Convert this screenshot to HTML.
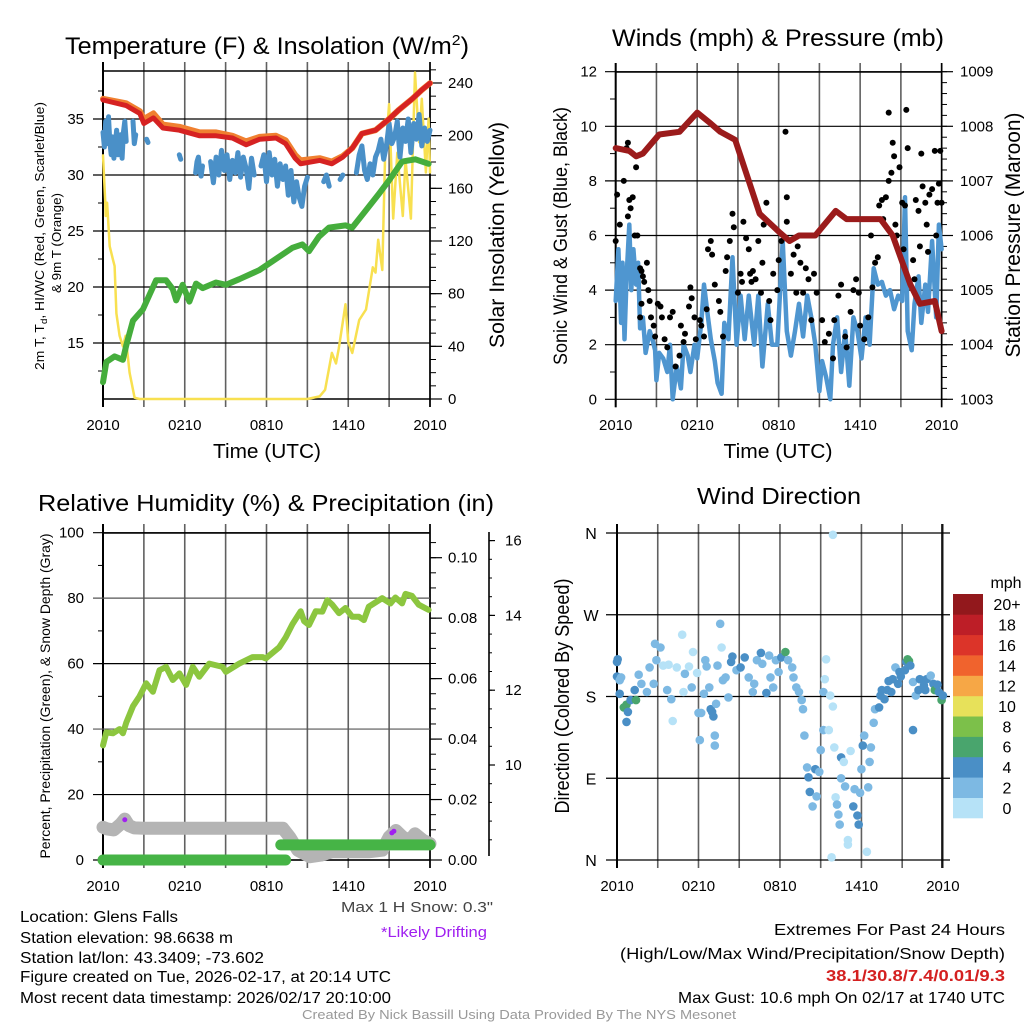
<!DOCTYPE html>
<html><head><meta charset="utf-8">
<style>
html,body{margin:0;padding:0;background:#fff;}
svg{display:block;font-family:"Liberation Sans",Arial,sans-serif;}
</style></head>
<body>
<svg id="chart" width="1024" height="1024" viewBox="0 0 1024 1024" xmlns="http://www.w3.org/2000/svg">
<rect x="0" y="0" width="1024" height="1024" fill="#fff"/>
<!-- titles -->
<text x="267" y="54" font-size="24" text-anchor="middle" textLength="404" lengthAdjust="spacingAndGlyphs">Temperature (F) &amp; Insolation (W/m<tspan font-size="15" dy="-9">2</tspan><tspan dy="9">)</tspan></text>
<text x="778" y="46" font-size="24" text-anchor="middle" textLength="332" lengthAdjust="spacingAndGlyphs">Winds (mph) &amp; Pressure (mb)</text>
<text x="266" y="511" font-size="23" text-anchor="middle" textLength="456" lengthAdjust="spacingAndGlyphs">Relative Humidity (%) &amp; Precipitation (in)</text>
<text x="779" y="504" font-size="23" text-anchor="middle" textLength="164" lengthAdjust="spacingAndGlyphs">Wind Direction</text>
<!-- axis titles -->
<text x="267" y="458" font-size="20" text-anchor="middle" textLength="108" lengthAdjust="spacingAndGlyphs">Time (UTC)</text>
<text x="778" y="458" font-size="20" text-anchor="middle" textLength="109" lengthAdjust="spacingAndGlyphs">Time (UTC)</text>
<text transform="translate(44,236) rotate(-90)" font-size="13" text-anchor="middle" textLength="268" lengthAdjust="spacingAndGlyphs">2m T, T<tspan font-size="9" dy="3">d</tspan><tspan dy="-3">, HI/WC (Red, Green, Scarlet/Blue)</tspan></text>
<text transform="translate(61,243) rotate(-90)" font-size="13" text-anchor="middle" textLength="100" lengthAdjust="spacingAndGlyphs">&amp; 9m T (Orange)</text>
<text transform="translate(504,235) rotate(-90)" font-size="21" text-anchor="middle" textLength="226" lengthAdjust="spacingAndGlyphs">Solar Insolation (Yellow)</text>
<text transform="translate(567,236) rotate(-90)" font-size="19" text-anchor="middle" textLength="258" lengthAdjust="spacingAndGlyphs">Sonic Wind &amp; Gust (Blue, Black)</text>
<text transform="translate(1020,235) rotate(-90)" font-size="21" text-anchor="middle" textLength="245" lengthAdjust="spacingAndGlyphs">Station Pressure (Maroon)</text>
<text transform="translate(50,696) rotate(-90)" font-size="14" text-anchor="middle" textLength="325" lengthAdjust="spacingAndGlyphs">Percent, Precipitation (Green), &amp; Snow Depth (Gray)</text>
<text transform="translate(569,696) rotate(-90)" font-size="20" text-anchor="middle" textLength="235" lengthAdjust="spacingAndGlyphs">Direction (Colored By Speed)</text>
<!-- footer text -->
<text x="493" y="912" font-size="15" fill="#444" text-anchor="end" textLength="152" lengthAdjust="spacingAndGlyphs">Max 1 H Snow: 0.3"</text>
<text x="487" y="937" font-size="15" fill="#a020f0" text-anchor="end" textLength="106" lengthAdjust="spacingAndGlyphs">*Likely Drifting</text>
<g font-size="15.5" fill="#000">
<text x="20" y="922" textLength="158" lengthAdjust="spacingAndGlyphs">Location: Glens Falls</text>
<text x="20" y="943" textLength="213" lengthAdjust="spacingAndGlyphs">Station elevation: 98.6638 m</text>
<text x="20" y="963" textLength="244" lengthAdjust="spacingAndGlyphs">Station lat/lon: 43.3409; -73.602</text>
<text x="20" y="982" textLength="371" lengthAdjust="spacingAndGlyphs">Figure created on Tue, 2026-02-17, at 20:14 UTC</text>
<text x="20" y="1003" textLength="371" lengthAdjust="spacingAndGlyphs">Most recent data timestamp: 2026/02/17 20:10:00</text>
</g>
<g font-size="16" text-anchor="end">
<text x="1005" y="935" textLength="231" lengthAdjust="spacingAndGlyphs">Extremes For Past 24 Hours</text>
<text x="1005" y="959" textLength="385" lengthAdjust="spacingAndGlyphs">(High/Low/Max Wind/Precipitation/Snow Depth)</text>
<text x="1005" y="981" font-weight="bold" fill="#d42020" textLength="179" lengthAdjust="spacingAndGlyphs">38.1/30.8/7.4/0.01/9.3</text>
<text x="1005" y="1003" textLength="327" lengthAdjust="spacingAndGlyphs">Max Gust: 10.6 mph On 02/17 at 1740 UTC</text>
</g>
<text x="519" y="1019" font-size="13" fill="#999" text-anchor="middle" textLength="434" lengthAdjust="spacingAndGlyphs">Created By Nick Bassill Using Data Provided By The NYS Mesonet</text>
</svg>
<script>
// ===== Temperature panel data =====
const tempHours = [0,1.7,2.7,3,3.7,4.4,5.6,7.1,8.3,9.5,10.5,11.5,12.7,13.4,14.1,14.5,15.9,16.8,17.6,18.3,19,20,21,21.7,22.7,23.4,24];
const tempValues = [36.7,36.2,35.5,34.6,35.1,34.2,34.0,33.5,33.5,33.3,32.7,33.2,33.3,32.8,31.5,31.0,31.3,31.0,31.6,32.4,33.7,34.0,35.0,35.8,36.8,37.6,38.2];
const temp9mValues = [36.8,36.4,35.7,35.0,35.5,34.5,34.3,33.8,33.8,33.5,33.0,33.4,33.5,33.1,31.8,31.3,31.5,31.2,31.7,32.4,33.7,34.0,35.0,35.8,36.8,37.6,38.2];
const dewHours = [0,0.24,0.85,1.46,1.71,2.2,2.93,3.41,3.9,4.63,5.12,5.37,5.85,6.34,6.83,7.32,8.29,9.02,10,11.46,12.68,13.9,14.63,15.12,15.85,16.59,17.8,18.29,19.27,20.24,20.98,21.95,22.93,23.9];
const dewValues = [11.5,13.3,13.8,13.5,14.8,17.0,18.0,19.3,20.6,20.6,19.8,18.8,20.2,18.7,20.3,19.9,20.4,20.2,20.7,21.5,22.5,23.5,23.8,23.2,24.5,25.3,25.5,25.3,26.8,28.3,29.5,31.2,31.4,31.0];
const chillHours = [
 0,0.1,0.2,0.3,0.4,0.5,0.6,0.7,0.8,0.9,1.0,1.1,1.2,1.3,1.4,1.5,1.6,1.7, 1.8,
 2.2,2.3,2.4, 2.5, 3.2,3.3, 3.4, 5.6,5.7, 5.8,
 6.8,6.9,7.0,7.1,7.2,7.3, 7.4,
 7.9,8.1,8.3,8.5,8.7,8.9,9.1,9.3,9.5,9.7,9.9,10.1,10.3,10.5,10.7,10.9,11.1, 11.3,
 11.6,11.8,12.0,12.2,12.4,12.6,12.8,13.0,13.2,13.4,
 13.6,13.8,14.0,14.2,14.4,14.6,14.8,15.0, 15.3,
 16.2,16.4,16.6, 16.8, 17.4,17.6, 17.8,
 18.6,18.8,19.0,19.2,19.4,19.6,19.8,20.0,20.2,20.4,20.6,20.8,
 21.0,21.2,21.4,21.6,21.8,22.0,22.2,22.4,22.6,22.8,23.0,23.2,23.4,23.6,23.8,24.0];
const chillValues = [
 33.8,32.5,34.8,32.8,35.2,33.0,31.8,33.4,31.5,32.6,34.0,31.8,32.9,33.6,31.5,33.8,34.8,33.0, null,
 34.8,32.8,33.6, null, 33.2,32.9, null, 31.8,31.4, null,
 30.2,31.2,31.6,30.4,29.9,30.8, null,
 31.2,29.3,31.6,30.0,32.2,30.4,31.8,29.6,31.3,30.2,32.0,29.8,31.6,30.6,28.8,31.5,30.0, null,
 30.8,31.8,29.4,32.0,30.0,31.4,29.0,31.0,29.6,30.8,
 28.2,30.4,27.6,29.4,28.0,27.2,29.0,29.8, null,
 29.4,30.0,29.0, null, 29.6,30.0, null,
 30.2,31.8,32.6,30.4,29.6,31.0,30.0,31.6,32.2,33.2,31.4,32.6,
 34.6,32.8,33.4,34.8,31.6,34.2,33.0,35.0,32.0,34.6,33.2,35.4,32.6,34.2,33.0,34.0];
const solarHours = [0,0.17,0.2,0.3,0.49,0.61,0.73,0.85,0.98,1.22,1.46,1.66,1.95,2.32,2.68,15.0,15.9,16.3,16.8,17.1,17.3,17.8,18.0,18.3,18.8,19.3,19.8,20.0,20.2,20.5,20.7,21.0,21.3,21.6,22.0,22.2,22.6,22.9,23.2,23.4,23.7,23.9,24];
const solarValues = [185,149,139,149,116,111,106,101,65,48,40,48,20,1,0,0,2,7,35,27,38,72,43,35,60,68,100,96,121,98,182,224,137,187,139,182,137,248,195,228,172,213,172];
const tempTicks = [15,20,25,30,35];
const solarTicks = [0,40,80,120,160,200,240];
const timeTickHours = [0,6,12,18,24];
const timeTickLabels = ['2010','0210','0810','1410','2010'];

// ===== Wind panel data =====
const windHours = [0,0.2,0.4,0.5,0.65,0.8,1.0,1.15,1.3,1.5,1.65,1.8,2.0,2.2,2.5,2.7,2.9,3.0,3.2,3.5,3.8,4.0,4.2,4.5,4.8,5.0,5.3,5.5,5.8,6.0,6.3,6.5,6.8,7.0,7.3,7.5,7.8,8.0,8.3,8.6,8.9,9.2,9.5,9.8,10.2,10.5,10.8,11.2,11.5,11.9,12.3,12.6,12.9,13.2,13.5,13.8,14.1,14.4,14.7,15.0,15.2,15.5,15.8,16.0,16.3,16.6,16.9,17.2,17.5,17.8,18.1,18.4,18.7,19.0,19.3,19.6,19.9,20.2,20.5,20.8,21.1,21.3,21.5,21.8,22.0,22.3,22.5,22.8,23.0,23.3,23.6,23.8,24.0];
const windValues = [3.6,5.5,2.8,5.0,2.2,4.5,6.4,4.0,5.5,4.2,5.0,2.6,3.0,1.7,2.5,2.2,1.8,0.7,1.7,1.5,1.0,2.0,0.0,1.2,0.4,2.0,1.6,1.0,2.0,1.5,2.8,4.2,3.0,2.2,1.4,0.6,0.2,2.8,2.2,5.2,2.0,3.8,2.2,3.8,2.0,3.8,1.2,3.5,2.0,2.0,5.8,2.5,1.6,2.5,3.5,2.3,3.8,3.0,2.0,0.3,1.4,0.8,0.0,2.0,3.0,1.0,2.5,0.5,3.0,2.5,1.5,3.0,2.0,4.8,4.2,4.3,3.8,4.0,3.3,3.8,3.6,7.4,2.5,1.8,3.5,4.5,2.8,4.2,3.2,5.8,3.0,6.4,5.5];
const gustHours = [0,0.1,0.3,0.6,0.8,0.9,1.0,0.9,1.1,1.25,1.5,1.4,1.6,1.8,1.9,2.0,2.1,2.3,2.4,1.9,1.8,2.5,2.6,2.8,2.9,3.1,3.3,3.4,3.6,3.8,4.0,4.2,4.4,4.7,4.8,5.0,5.1,5.4,5.5,5.6,5.8,5.9,6.2,6.3,6.5,6.7,6.8,7.0,7.1,7.3,7.6,7.7,7.9,8.1,8.2,8.4,8.6,8.7,9.0,9.2,9.3,9.4,9.6,9.8,9.9,10.0,10.1,10.3,10.5,10.7,10.8,10.9,11.1,11.3,11.4,11.6,11.9,12.0,12.2,12.5,12.6,12.6,12.9,13.1,13.3,13.4,13.6,13.8,14.0,14.2,14.4,14.6,14.8,15.2,15.4,15.7,16.0,16.1,16.4,16.6,16.9,17.0,17.3,17.5,17.7,17.9,18.0,18.3,18.6,18.8,18.9,19.1,19.3,19.4,19.6,19.7,19.9,20.1,20.1,20.3,20.4,20.5,20.6,20.7,20.9,21.2,21.1,21.3,21.4,21.5,21.9,22.0,22.1,22.3,22.4,22.5,22.6,22.8,22.9,23.0,23.1,23.3,23.5,23.6,23.7,23.8,23.9,24.0];
const gustValues = [5.8,7.5,6.4,8.0,9.2,9.4,7.3,6.7,7.0,7.4,8.5,6.0,6.0,4.8,4.7,4.5,4.3,5.0,4.0,3.5,3.0,3.6,3.0,2.7,2.3,3.5,3.4,3.0,2.2,1.9,3.0,3.2,1.2,1.6,2.7,2.1,2.4,3.4,4.1,3.7,3.0,2.2,2.9,2.7,2.3,3.3,5.5,5.8,5.3,4.2,3.6,3.2,2.3,4.7,5.2,5.8,6.8,6.3,3.9,4.6,4.3,6.5,5.9,5.5,4.6,4.3,4.7,4.4,5.8,3.9,5.0,6.4,7.2,3.6,2.9,4.6,4.0,5.1,5.8,9.8,7.4,6.5,4.6,5.3,3.9,5.6,5.0,3.9,4.8,4.4,2.9,4.6,3.9,2.9,2.1,2.4,1.5,2.9,3.8,4.2,2.3,1.9,3.2,4.0,4.4,3.9,2.7,2.2,3.0,6.0,4.1,5.0,5.2,7.1,7.3,6.6,7.4,10.5,8.0,8.3,9.4,8.9,6.4,6.0,8.5,5.5,7.2,7.1,10.6,9.2,5.1,4.4,7.3,6.9,5.6,9.0,7.8,7.2,6.4,5.4,7.5,7.7,9.1,6.0,7.2,7.9,9.1,7.2];
const presHours = [0,1,1.5,2,3.2,4.7,6,7,7.7,8.8,9.8,10.6,12.1,12.8,13.5,14.7,16.2,17,18,19.5,20.4,21.7,22.4,23.5,24];
const presValues = [1007.6,1007.55,1007.45,1007.5,1007.85,1007.9,1008.25,1008.05,1007.9,1007.75,1007.0,1006.4,1006.05,1005.9,1006.0,1006.0,1006.45,1006.3,1006.3,1006.3,1006.0,1005.1,1004.75,1004.8,1004.25];
const windTicks = [0,2,4,6,8,10,12];
const presTicks = [1003,1004,1005,1006,1007,1008,1009];

// ===== Humidity panel data =====
const rhHours = [0,0.24,0.73,1.22,1.46,1.71,2.2,2.68,3.17,3.66,4.15,4.63,5.12,5.61,6.1,6.59,7.07,7.8,8.78,9.02,10.0,10.98,11.71,11.95,12.93,13.41,13.9,14.51,14.76,15.12,15.61,16.1,16.46,16.83,17.32,17.8,18.29,18.78,19.15,19.51,20.49,21.1,21.46,21.95,22.2,22.68,23.17,23.9];
const rhValues = [35,39,38.7,40,38.7,42,47,50,54,51.4,58,59,55,57,53.5,59,56,60,59,57.5,60,62,62,61.6,65,68,72,76,73,71.8,76,75.9,79.4,78,75.4,77,74.3,74.3,73.3,77.4,80,78.4,80.2,78.4,81.3,80.7,78,76.4];
const snowHours = [0,0.3,0.8,1.3,1.6,1.9,2.3,3,6,9,12,13.2,13.7,14.3,15.2,16,16.8,18,19.5,20.5,21,21.5,22,22.5,22.9,23.5,24];
const snowValues = [10,9.5,9.2,11,12.5,10.5,9.8,9.7,9.7,9.7,9.7,9.7,7,3,1,1.5,2.5,2.5,2.5,3,7,9,7,6,8,6,5];
const precipHours = [0,13.4,13.4,13.05,24];
const precipValues = [0,0,null,0.005,0.005];
const driftHours = [1.6,21.2,21.35];
const driftValues = [12.3,8.3,8.8];
const rhTicks = [0,20,40,60,80,100];
const precipTicks = [0,0.02,0.04,0.06,0.08,0.10];
const precipLabels = ['0.00','0.02','0.04','0.06','0.08','0.10'];
const snowTicks = [10,12,14,16];

// ===== Wind direction data =====
const dirHours = [0,0,0.05,0.2,0.2,0.3,0.5,0.7,0.7,0.8,1.0,1.3,1.4,1.6,1.8,2.2,2.4,2.7,2.9,2.8,3.2,3.4,3.7,3.8,4.0,4.1,4.4,4.8,5.0,4.9,5.3,5.5,5.6,5.9,6.0,6.1,6.2,6.4,6.5,6.6,6.8,6.9,7.0,7.1,7.2,7.2,7.3,7.4,7.6,7.7,7.8,8.0,8.2,8.4,8.5,8.8,9.1,9.4,9.7,10.0,10.1,10.3,10.6,10.7,11.0,11.2,11.3,11.5,11.7,11.9,12.1,12.4,12.6,12.9,13.0,13.2,13.4,13.6,13.7,13.8,14.0,14.1,14.2,14.4,14.6,14.7,14.9,15.0,15.2,15.2,15.3,15.4,15.6,15.7,15.9,15.8,15.9,16.0,16.1,16.2,16.3,16.4,16.5,16.7,16.5,16.8,17.0,17.0,17.2,17.4,17.5,17.7,17.8,17.9,18.0,18.1,18.2,18.4,18.5,18.6,18.7,18.9,19.0,19.3,19.4,19.5,19.7,19.9,20.0,20.2,20.3,20.5,20.7,20.8,20.9,21.2,21.3,21.4,21.5,21.6,21.8,21.8,22.0,22.2,22.3,22.6,22.7,22.8,23.1,23.3,23.4,23.6,23.7,23.9,24.0];
const dirDegrees = [218,202,221,183,198,201,168,171,152,163,176,187,176,204,194,185,212,194,220,238,234,214,187,215,177,153,212,248,205,185,213,190,229,206,162,132,162,183,220,213,190,166,163,158,126,137,172,214,260,234,198,201,179,218,224,209,212,223,201,185,194,220,228,216,184,225,201,190,220,207,223,229,220,212,201,190,185,176,166,137,102,91,75,59,100,70,97,121,143,185,199,221,143,181,358,3,169,124,69,61,50,39,113,108,90,81,22,17,120,59,78,49,39,74,100,126,137,9,80,108,124,151,166,168,181,187,177,187,197,185,199,212,194,207,202,209,218,221,219,214,143,196,181,187,199,192,187,199,203,194,187,193,185,176,181];
const dirSpeeds = [5,5,5,5,3,3,7,7,5,5,5,5,7,3,3,3,3,3,3,3,3,1,3,1,3,1,1,1,3,1,1,3,1,1,3,3,3,3,3,3,3,5,5,5,3,3,3,3,3,1,3,3,3,5,5,3,5,5,3,3,3,3,5,3,5,3,3,3,3,3,5,7,3,3,3,3,3,3,3,3,3,5,5,3,5,3,3,3,3,3,1,1,1,1,1,1,1,1,1,3,3,3,5,1,3,3,1,1,1,5,3,5,5,3,3,5,3,1,3,3,3,3,3,5,5,5,5,5,5,5,5,3,5,5,5,5,5,7,7,5,5,3,3,5,5,5,5,5,3,5,7,5,5,7,5];
const dirTicks = [0,90,180,270,360];
const dirLabels = ['N','E','S','W','N'];
const speedBins = [0,2,4,6,8,10,12,14,16,18,20];
const speedLabels = ['0','2','4','6','8','10','12','14','16','18','20+'];
const speedColors = ['#b6e2f7','#7db9e3','#4a8fc6','#49a56d','#7cc04a','#e7e15a','#f6a746','#f0632d','#dc3429','#bd1e27','#92181c'];

// ===== rendering =====
const NS = 'http://www.w3.org/2000/svg';
const svg = document.getElementById('chart');
function mk(tag, attrs, parent) {
  const e = document.createElementNS(NS, tag);
  for (const k in attrs) e.setAttribute(k, attrs[k]);
  (parent || svg).appendChild(e);
  return e;
}
function pathD(xs, ys, fx, fy) {
  let d = '', pen = false;
  for (let i = 0; i < xs.length; i++) {
    if (ys[i] === null) { pen = false; continue; }
    d += (pen ? 'L' : 'M') + fx(xs[i]).toFixed(1) + ',' + fy(ys[i]).toFixed(1);
    pen = true;
  }
  return d;
}
function colorFor(s) {
  let idx = 0;
  for (let i = 0; i < speedBins.length; i++) if (s >= speedBins[i]) idx = i;
  return speedColors[idx];
}

// axis functions
const tlX = h => 103 + h * 13.625, tlY = t => 399 - (t - 10) * 11.2, tlS = s => 399 - s * 1.3167;
const trX = h => 615.7 + h * 13.58, trY = w => 399.3 - w * 27.3, trP = p => 399.3 - (p - 1003) * 54.6;
const blX = h => 103 + h * 13.625, blY = v => 860 - v * 3.273, blP = p => 860 - p * 3023, blSn = s => 765 - (s - 10) * 37.4;
const brX = h => 617 + h * 13.58, brY = d => 860 - d * 0.9083;

function frame(g, name, x0, x1, yTop, yBot, fX, labelY) {
  // vertical grid
  for (let h = 0; h <= 24; h += 3) {
    const l = mk('line', {x1: fX(h), x2: fX(h), y1: yTop - 9, y2: yBot + 8, stroke: '#606060', 'stroke-width': 1.6}, g);
    
    
  }
  timeTickHours.forEach((h, i) => {
    const t = mk('text', {x: fX(h), y: labelY, 'font-size': 15, 'text-anchor': 'middle'}, g);
    t.textContent = timeTickLabels[i];
    
    
  });
  const b = mk('line', {x1: x0, x2: x0, y1: yTop - 9, y2: yBot + 8, stroke: '#000', 'stroke-width': 2}, g);
  
  
  const r = mk('line', {x1: x1, x2: x1, y1: yTop - 9, y2: yBot + 8, stroke: '#000', 'stroke-width': 1.6}, g);
  
  
}
function hline(g, name, xa, xb, y, w, c) {
  const l = mk('line', {x1: xa, x2: xb, y1: y, y2: y, stroke: c || '#000', 'stroke-width': w || 1.2}, g);
  
  
}
function label(g, name, x, y, txt, anchor, size) {
  const t = mk('text', {x: x, y: y, 'font-size': size || 15, 'text-anchor': anchor || 'start'}, g);
  t.textContent = txt;
  
  
  return t;
}
function line(g, name, xs, ys, fx, fy, color, w) {
  const p = mk('path', {d: pathD(xs, ys, fx, fy), fill: 'none', stroke: color, 'stroke-width': w, 'stroke-linejoin': 'round', 'stroke-linecap': 'round'}, g);
  
  
  return p;
}

// ---- Panel 1: temperature ----
const g1 = mk('g', {});


frame(g1, 'temp', 103, 430, 71, 399, tlX, 430);
hline(g1, 'temp-top-border', 103, 430, 71, 1.5);
hline(g1, 'temp-bottom-border', 103, 430, 399, 1.5);
for (let t = 12.5; t <= 37.5; t += 2.5) hline(g1, 'temp-minor-tick', 98, 103, tlY(t), 1);
tempTicks.forEach(t => { hline(g1, 'temp-gridline', 93, 430, tlY(t), 1.2); label(g1, 'temp-y-tick-label', 84, tlY(t) + 5, String(t), 'end'); });
for (let s = 0; s <= 250; s += 10) hline(g1, 'solar-minor-tick', 430, 436, tlS(s), 1);
solarTicks.forEach(s => { hline(g1, 'solar-tick', 430, 442, tlS(s), 1.2); label(g1, 'solar-y-tick-label', 448, tlS(s) + 5, String(s), 'start'); });
line(g1, 'solar-line', solarHours, solarValues, tlX, tlS, '#f8e050', 2.5);
line(g1, 'dewpoint-line', dewHours, dewValues, tlX, tlY, '#45ad3c', 6);
line(g1, 'windchill-line', chillHours, chillValues, tlX, tlY, '#4a90c8', 5);
line(g1, 'temp-9m-line', tempHours, temp9mValues, tlX, tlY, '#f08030', 6);
line(g1, 'temp-2m-line', tempHours, tempValues, tlX, tlY, '#d62222', 5);

// ---- Panel 2: winds ----
const g2 = mk('g', {});


frame(g2, 'wind', 615.7, 941.7, 72, 399.3, trX, 430);
hline(g2, 'wind-top-border', 615.7, 941.7, 72, 1.5);
for (let w = 1; w <= 11; w += 2) hline(g2, 'wind-minor-tick', 610, 615.7, trY(w), 1);
windTicks.forEach(w => { hline(g2, 'wind-gridline', 605, 941.7, trY(w), 1.2); label(g2, 'wind-y-tick-label', 597, trY(w) + 5, String(w), 'end'); });
for (let p = 1003; p <= 1009.01; p += 0.2) hline(g2, 'pressure-minor-tick', 941.7, 947, trP(p), 1);
presTicks.forEach(p => { hline(g2, 'pressure-tick', 941.7, 953, trP(p), 1.2); label(g2, 'pressure-y-tick-label', 960, trP(p) + 5, String(p), 'start'); });
line(g2, 'sonic-wind-line', windHours, windValues, trX, trY, '#4f96d0', 4.5);
gustHours.forEach((h, i) => {
  const c = mk('circle', {cx: trX(h).toFixed(1), cy: trY(gustValues[i]).toFixed(1), r: 3, fill: '#000'}, g2);
  
  
});
line(g2, 'pressure-line', presHours, presValues, trX, trP, '#9b1b1b', 6);

// ---- Panel 3: humidity ----
const g3 = mk('g', {});


frame(g3, 'rh', 103, 430, 533, 860, blX, 891);
hline(g3, 'rh-top-border', 103, 430, 533, 1.5);
hline(g3, 'rh-bottom-border', 103, 430, 860, 1.5);
for (let v = 10; v <= 90; v += 20) hline(g3, 'rh-minor-tick', 98, 103, blY(v), 1);
rhTicks.forEach(v => { hline(g3, 'rh-gridline', 93, 430, blY(v), 1.2, v === 80 || v === 40 ? '#555' : '#000'); label(g3, 'rh-y-tick-label', 84, blY(v) + 5, String(v), 'end'); });
for (let p = 0; p <= 0.1051; p += 0.005) hline(g3, 'precip-minor-tick', 430, 436, blP(p), 1);
precipTicks.forEach((p, i) => { hline(g3, 'precip-tick', 430, 442, blP(p), 1.2); label(g3, 'precip-y-tick-label', 448, blP(p) + 5, precipLabels[i], 'start'); });
const sa = mk('line', {x1: 489, x2: 489, y1: 532, y2: 856, stroke: '#000', 'stroke-width': 1.6}, g3);


for (let s = 8; s <= 16.2; s += 0.5) if (blSn(s) <= 856 && blSn(s) >= 532) hline(g3, 'snow-minor-tick', 489, 492, blSn(s), 1);
snowTicks.forEach(s => { hline(g3, 'snow-tick', 489, 495, blSn(s), 1.2); label(g3, 'snow-y-tick-label', 505, blSn(s) + 5, String(s), 'start'); });
line(g3, 'snow-depth-line', snowHours, snowValues, blX, blY, '#b4b4b4', 13);
driftHours.forEach((h, i) => {
  const d = mk('circle', {cx: blX(h), cy: blY(driftValues[i]), r: 2.5, fill: '#a020f0'}, g3);
  
  
});
line(g3, 'precip-line', precipHours, precipValues, blX, p => blP(p), '#46b446', 11);
line(g3, 'rh-line', rhHours, rhValues, blX, blY, '#8cc63f', 6);

// ---- Panel 4: wind direction ----
const g4 = mk('g', {});


frame(g4, 'dir', 617, 942, 533, 860, brX, 891);
dirTicks.forEach((d, i) => { hline(g4, 'dir-gridline', 606, 950, brY(d), 1.2); label(g4, 'dir-y-tick-label', 591, brY(d) + 6, dirLabels[i], 'middle', 16); });
dirHours.forEach((h, i) => {
  const c = mk('circle', {cx: brX(h).toFixed(1), cy: brY(dirDegrees[i]).toFixed(1), r: 4.3, fill: colorFor(dirSpeeds[i])}, g4);
  
  
});
// colorbar
const cb = mk('g', {});


label(cb, 'colorbar-unit-label', 1006, 588, 'mph', 'middle', 16);
const boxH = (818 - 594) / speedColors.length;
speedColors.forEach((c, i) => {
  const row = speedColors.length - 1 - i;
  const y = 594 + row * boxH;
  const r = mk('rect', {x: 953, y: y.toFixed(1), width: 30, height: (boxH + 0.3).toFixed(1), fill: c}, cb);
  
  
  label(cb, 'colorbar-label', 1007, y + boxH / 2 + 6, speedLabels[i], 'middle', 16);
});
</script>
</body></html>
